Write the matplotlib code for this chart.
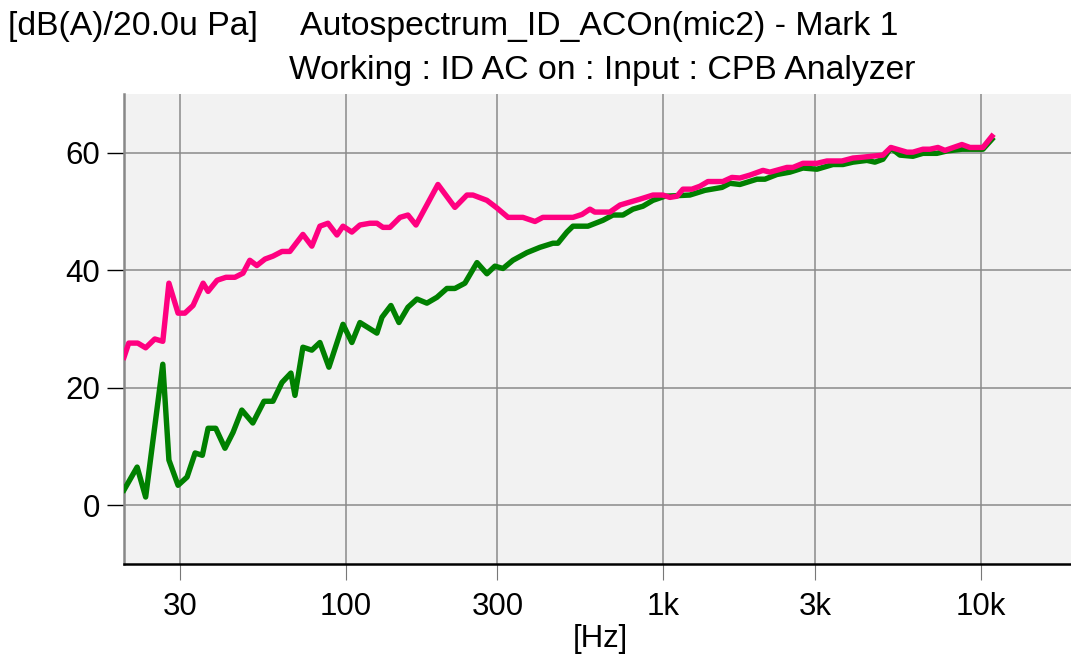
import matplotlib
matplotlib.use("Agg")
import matplotlib.pyplot as plt

plt.rcParams["font.family"] = ["Liberation Sans", "DejaVu Sans"]

# A-weighted autospectrum, mic2, AC on
freq_on = [20, 20.7, 22.1, 23.4, 25.0, 26.5, 27.7, 29.6, 31.1, 33.0, 35.5, 36.8, 39.3, 41.9,
           44.7, 47.4, 49.8, 52.4, 55.6, 58.9, 62.9, 66.6, 73.2, 78.1, 82.8, 87.8, 93.7, 97.9,
           104.4, 110.7, 119, 125.2, 130.8, 137.6, 148, 156.8, 166.2, 194.9, 220.4, 240.5, 251.2,
           278, 299, 324, 361, 394, 417, 519, 554, 587, 608, 678, 730, 784, 843, 927, 996,
           1048, 1103, 1152, 1229, 1303, 1381, 1539, 1643, 1741, 1873, 2058, 2165, 2449, 2558,
           2750, 3045, 3273, 3650, 3954, 4159, 4913, 5205, 5848, 6107, 6566, 6909, 7322, 7703,
           8713, 9235, 10146, 10830]
db_on = [25.2, 27.6, 27.6, 26.8, 28.3, 27.9, 37.8, 32.7, 32.7, 34.0, 37.8, 36.4, 38.3, 38.8,
         38.8, 39.5, 41.7, 40.8, 41.9, 42.4, 43.2, 43.2, 46.1, 44.1, 47.5, 48.0, 46.0, 47.5,
         46.5, 47.7, 48.0, 48.0, 47.3, 47.3, 49.0, 49.4, 47.7, 54.6, 50.7, 52.8, 52.8,
         51.9, 50.6, 49.0, 49.0, 48.3, 49.0, 49.0, 49.5, 50.4, 49.9, 49.9, 51.1, 51.6, 52.1, 52.8, 52.8,
         52.4, 52.6, 53.8, 53.8, 54.3, 55.1, 55.1, 55.8, 55.7, 56.2, 57.0, 56.7, 57.5, 57.5,
         58.2, 58.2, 58.6, 58.6, 59.1, 59.2, 59.6, 60.9, 60.1, 60.1, 60.6, 60.6, 60.9, 60.4,
         61.4, 60.9, 60.9, 62.8]

# second trace
freq_ref = [20, 22.0, 23.4, 26.5, 27.7, 29.6, 31.6, 33.5, 35.3, 36.8, 38.9, 41.6, 44.1, 47.0,
            50.9, 55.2, 58.9, 62.9, 67.1, 69.1, 73.2, 78.1, 82.8, 88.4, 97.9, 104.4, 110.7,
            125.2, 129.9, 138.6, 146.9, 156.8, 167.4, 179.9, 193.5, 208, 220.4, 237, 258.7,
            278, 294.6, 312.4, 335.7, 371.6, 408.3, 448.7, 465.2, 496.7, 518.8, 578.4, 644.9,
            693.3, 745.5, 801.5, 861.8, 926.6, 1011, 1211, 1351, 1529, 1620, 1741, 1970, 2088,
            2278, 2503, 2750, 3045, 3419, 3677, 3954, 4375, 4636, 4913, 5205, 5557, 6107, 6566,
            7267, 7813, 8713, 10146, 10830]
db_ref = [2.6, 6.5, 1.4, 24.0, 7.7, 3.4, 4.8, 8.9, 8.5, 13.1, 13.1, 9.7, 12.4, 16.2,
          14.0, 17.7, 17.7, 20.9, 22.5, 18.7, 26.9, 26.4, 27.7, 23.5, 30.8, 27.7, 31.1,
          29.3, 32.0, 34.0, 31.1, 33.7, 35.1, 34.4, 35.4, 36.9, 36.9, 37.8, 41.3,
          39.4, 40.7, 40.3, 41.7, 43.0, 43.9, 44.6, 44.6, 46.5, 47.5, 47.5, 48.5,
          49.4, 49.4, 50.4, 50.9, 51.9, 52.6, 52.8, 53.6, 54.1, 54.8, 54.6, 55.5, 55.5,
          56.3, 56.7, 57.4, 57.2, 58.0, 58.0, 58.4, 58.7, 58.4, 58.9, 60.8, 59.6, 59.4, 59.9,
          59.9, 60.3, 60.6, 60.6, 62.3]

xticks = [30, 100, 300, 1000, 3000, 10000]
xticklabels = ["30", "100", "300", "1k", "3k", "10k"]
yticks = [0, 20, 40, 60]

fig = plt.figure(figsize=(10.71, 6.55), dpi=100)
ax = fig.add_axes([124 / 1071, 91 / 655, 952.5 / 1071, 470 / 655])
ax.set_facecolor("#f2f2f2")

ax.plot(freq_ref, db_ref, color="#008000", lw=3.9, solid_joinstyle="round", zorder=3)
ax.plot(freq_on, db_on, color="#ff0080", lw=3.9, solid_joinstyle="round", zorder=4)

ax.set_xscale("log")
ax.set_xlim(20, 20000)
ax.set_ylim(-10, 70)
ax.set_xticks(xticks)
ax.set_xticklabels(xticklabels)
ax.xaxis.set_minor_locator(matplotlib.ticker.NullLocator())
ax.set_yticks(yticks)

ax.grid(True, color="#8a8a8a", lw=1.1)
ax.set_axisbelow(True)

for s in ["top", "right"]:
    ax.spines[s].set_visible(False)
ax.spines["left"].set_color("#888888")
ax.spines["left"].set_linewidth(1.8)
ax.spines["bottom"].set_color("black")
ax.spines["bottom"].set_linewidth(1.8)

ax.tick_params(axis="x", length=11.5, width=0.8, color="#777777", pad=9, labelsize=22.5)
ax.tick_params(axis="y", length=12, width=1.0, color="black", pad=5, labelsize=22.5)

fig.text(8 / 1071, 1 - 26 / 655, "[dB(A)/20.0u Pa]", fontsize=24.3, va="center", ha="left")
fig.text(300 / 1071, 1 - 26 / 655, "Autospectrum_ID_ACOn(mic2) - Mark 1", fontsize=24.3,
         va="center", ha="left")
fig.text(602 / 1071, 1 - 71 / 655, "Working : ID AC on : Input : CPB Analyzer", fontsize=24.3,
         va="center", ha="center")
fig.text(600 / 1071, 1 - 639 / 655, "[Hz]", fontsize=22.5, va="center", ha="center")

fig.savefig("out.png", dpi=100)
